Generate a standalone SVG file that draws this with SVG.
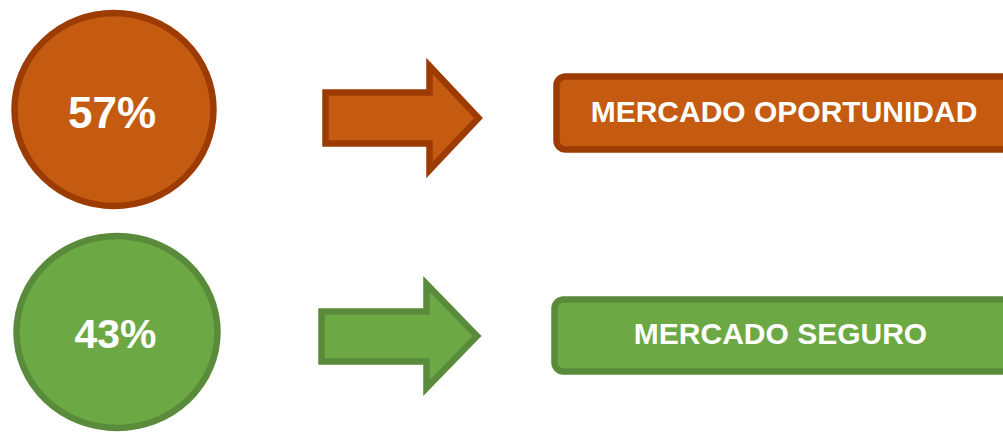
<svg xmlns="http://www.w3.org/2000/svg" width="1003" height="432" viewBox="0 0 1003 432">
  <style>
    .orange { fill: #C55A11; stroke: #9C3B02; }
    .green { fill: #6CA944; stroke: #5A8B3A; }
    .shape { stroke-width: 6.5; stroke-linejoin: miter; }
    .label { fill: #FFFFFF; font-family: "Liberation Sans", Arial, sans-serif; font-weight: bold; text-anchor: middle; }
  </style>
  <rect width="1003" height="432" fill="#FFFFFF"/>

  <!-- top row -->
  <g id="pct-57">
    <ellipse class="shape orange" cx="114" cy="109.5" rx="99.5" ry="96.5"/>
    <text class="label" x="112" y="128" font-size="44">57%</text>
  </g>
  <g id="market-opportunity">
    <rect class="shape orange" x="556.5" y="76.5" width="470" height="73" rx="9"/>
    <text class="label" x="784" y="122" font-size="30">MERCADO OPORTUNIDAD</text>
  </g>

  <!-- bottom row -->
  <g id="pct-43">
    <ellipse class="shape green" cx="117" cy="332" rx="100.5" ry="96"/>
    <text class="label" x="115.5" y="348" font-size="41">43%</text>
  </g>
  <g id="market-safe">
    <rect class="shape green" x="554.5" y="299.5" width="470" height="72" rx="9"/>
    <text class="label" x="780.5" y="344" font-size="30">MERCADO SEGURO</text>
  </g>

  <!-- block arrows linking each figure to its market -->
  <g id="connectors">
    <path class="shape orange" d="M325.5,92.5 H429.5 V66 L478.5,118 L429.5,170 V143.5 H325.5 Z"/>
    <path class="shape green" d="M321.5,311.5 H426.5 V284 L477,336 L426.5,388 V361.5 H321.5 Z"/>
  </g>
</svg>
